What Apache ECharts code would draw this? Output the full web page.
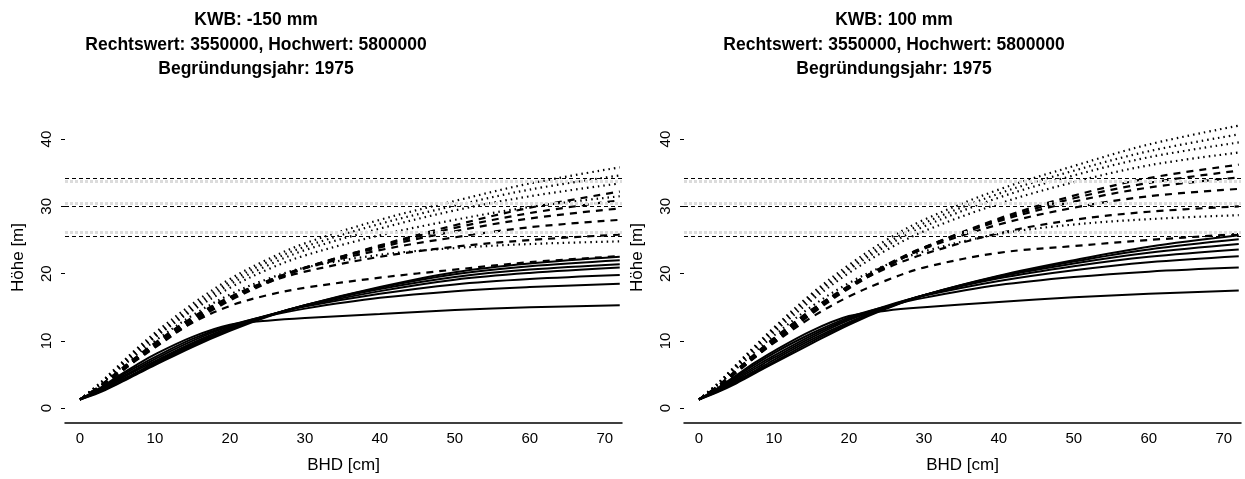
<!DOCTYPE html>
<html>
<head>
<meta charset="utf-8">
<script src="https://cdn.jsdelivr.net/npm/echarts@6/dist/echarts.min.js"></script>
<style>
  html, body { margin: 0; padding: 0; background: #fff; }
  #chart { width: 1245px; height: 479px; }
</style>
</head>
<body>
<div id="chart"></div>
<script>
var bhd = [0, 2.5, 5, 7.5, 10, 15, 20, 25, 30, 40, 50, 60, 72];

var xTicks = [0, 10, 20, 30, 40, 50, 60, 70];
var yTicks = [0, 10, 20, 30, 40];

// horizontal reference heights and their faint grey companions
var refHeights = [25.6, 30, 34.2];
var refBands = [26.2, 30.5, 33.7];

var titleLeft = 'KWB: -150 mm\nRechtswert: 3550000, Hochwert: 5800000\nBegründungsjahr: 1975';
var titleRight = 'KWB: 100 mm\nRechtswert: 3550000, Hochwert: 5800000\nBegründungsjahr: 1975';

// KWB -150 mm
var solidLeft = [
  [1.3, 2.3, 3.6, 5.0, 6.4, 9.1, 11.5, 13.6, 15.3, 18.0, 20.2, 21.5, 22.5],
  [1.3, 2.4, 3.7, 5.1, 6.6, 9.3, 11.7, 13.7, 15.3, 17.9, 19.9, 21.1, 22.0],
  [1.3, 2.5, 3.9, 5.3, 6.8, 9.5, 11.8, 13.7, 15.3, 17.7, 19.5, 20.6, 21.4],
  [1.3, 2.6, 4.1, 5.6, 7.0, 9.7, 12.0, 13.8, 15.2, 17.4, 19.1, 20.1, 20.9],
  [1.3, 2.7, 4.3, 5.8, 7.3, 10.0, 12.2, 13.8, 15.1, 17.0, 18.4, 19.2, 19.8],
  [1.3, 2.8, 4.5, 6.1, 7.6, 10.3, 12.3, 13.7, 14.8, 16.4, 17.4, 18.0, 18.5],
  [1.3, 2.9, 4.7, 6.4, 8.0, 10.6, 12.4, 13.0, 13.4, 14.0, 14.6, 15.0, 15.3]
];
var dashedLeft = [
  [1.3, 3.0, 5.0, 7.1, 9.0, 12.8, 16.0, 18.6, 20.8, 24.2, 27.2, 29.8, 32.2],
  [1.3, 3.0, 5.1, 7.2, 9.2, 13.0, 16.2, 18.8, 20.9, 24.1, 26.8, 29.0, 30.9],
  [1.3, 3.1, 5.2, 7.3, 9.3, 13.2, 16.4, 18.9, 20.9, 23.9, 26.3, 28.2, 29.7],
  [1.3, 3.1, 5.3, 7.5, 9.5, 13.4, 16.5, 18.9, 20.8, 23.5, 25.4, 26.9, 28.0],
  [1.3, 3.2, 5.4, 7.6, 9.7, 13.5, 16.5, 18.7, 20.3, 22.5, 24.0, 25.0, 25.8],
  [1.3, 3.1, 5.2, 7.3, 9.2, 12.7, 15.2, 16.8, 17.9, 19.4, 20.6, 21.7, 22.6]
];
var dottedLeft = [
  [1.3, 3.6, 6.2, 8.8, 11.2, 15.5, 19.2, 22.1, 24.5, 28.0, 30.8, 33.4, 35.8],
  [1.3, 3.5, 6.0, 8.6, 10.9, 15.1, 18.8, 21.7, 24.0, 27.4, 30.1, 32.5, 34.6],
  [1.3, 3.4, 5.9, 8.4, 10.7, 14.8, 18.4, 21.2, 23.5, 26.7, 29.4, 31.5, 33.4],
  [1.3, 3.4, 5.8, 8.2, 10.5, 14.5, 17.9, 20.6, 22.7, 25.7, 28.0, 29.9, 31.5],
  [1.3, 3.3, 5.6, 7.9, 10.0, 13.8, 16.9, 19.2, 20.9, 22.8, 23.8, 24.4, 24.8]
];

// KWB 100 mm
var solidRight = [
  [1.3, 2.4, 3.7, 5.2, 6.7, 9.6, 12.4, 14.8, 16.8, 19.7, 22.0, 24.0, 25.7],
  [1.3, 2.5, 3.9, 5.4, 6.9, 9.9, 12.6, 14.9, 16.8, 19.6, 21.8, 23.6, 25.1],
  [1.3, 2.6, 4.1, 5.6, 7.2, 10.2, 12.8, 15.0, 16.8, 19.5, 21.5, 23.1, 24.4],
  [1.3, 2.7, 4.3, 5.9, 7.5, 10.5, 13.1, 15.1, 16.8, 19.3, 21.1, 22.5, 23.6],
  [1.3, 2.8, 4.5, 6.2, 7.8, 10.8, 13.3, 15.2, 16.7, 18.9, 20.5, 21.7, 22.6],
  [1.3, 2.9, 4.7, 6.5, 8.2, 11.1, 13.5, 15.1, 16.4, 18.3, 19.5, 20.3, 20.9],
  [1.3, 3.0, 4.9, 6.8, 8.5, 11.5, 13.7, 14.5, 15.0, 15.8, 16.5, 17.0, 17.5]
];
var dashedRight = [
  [1.3, 3.1, 5.3, 7.6, 9.8, 14.0, 17.8, 21.0, 23.8, 28.2, 31.6, 34.2, 36.2],
  [1.3, 3.1, 5.4, 7.7, 9.9, 14.2, 18.0, 21.2, 23.9, 28.0, 31.2, 33.5, 35.3],
  [1.3, 3.2, 5.5, 7.8, 10.1, 14.4, 18.1, 21.3, 23.9, 27.8, 30.7, 32.8, 34.3],
  [1.3, 3.2, 5.6, 8.0, 10.3, 14.6, 18.2, 21.2, 23.7, 27.3, 29.8, 31.5, 32.6],
  [1.3, 3.3, 5.7, 8.1, 10.4, 14.6, 18.0, 20.8, 22.9, 26.0, 28.0, 29.2, 30.0],
  [1.3, 3.2, 5.4, 7.6, 9.7, 13.5, 16.6, 19.0, 20.9, 23.1, 24.1, 25.0, 25.9]
];
var dottedRight = [
  [1.3, 3.7, 6.5, 9.3, 12.0, 17.0, 21.3, 25.0, 28.0, 32.5, 36.0, 39.2, 42.0],
  [1.3, 3.6, 6.4, 9.1, 11.8, 16.7, 20.9, 24.5, 27.5, 31.9, 35.3, 38.2, 40.7],
  [1.3, 3.6, 6.3, 9.0, 11.6, 16.4, 20.6, 24.1, 27.0, 31.3, 34.6, 37.3, 39.5],
  [1.3, 3.5, 6.2, 8.8, 11.3, 16.0, 20.1, 23.5, 26.3, 30.4, 33.6, 36.1, 38.0],
  [1.3, 3.4, 5.9, 8.4, 10.8, 15.1, 18.6, 21.3, 23.3, 25.9, 27.3, 28.1, 28.7]
];

var FONT = 'Liberation Sans, Arial, sans-serif';

function pairs(ys) {
  return bhd.map(function (x, i) { return [x, ys[i]]; });
}

function curveSeries(groups, idx) {
  var out = [];
  var styles = [
    { list: groups[0], type: 'solid', width: 2 },
    { list: groups[1], type: [7, 6], width: 2.2 },
    { list: groups[2], type: [1.5, 4], width: 2.2 }
  ];
  styles.forEach(function (st) {
    st.list.forEach(function (ys) {
      out.push({
        type: 'line',
        xAxisIndex: idx,
        yAxisIndex: idx,
        data: pairs(ys),
        showSymbol: false,
        symbol: 'none',
        smooth: 0.35,
        silent: true,
        lineStyle: { color: '#000', width: st.width, type: st.type }
      });
    });
  });
  // reference lines
  out.push({
    type: 'line', xAxisIndex: idx, yAxisIndex: idx, data: [], silent: true,
    markLine: {
      silent: true, symbol: 'none', label: { show: false },
      lineStyle: { color: '#dcdcdc', width: 3, type: [3, 2] },
      data: refBands.map(function (v) { return { yAxis: v }; })
    }
  });
  out.push({
    type: 'line', xAxisIndex: idx, yAxisIndex: idx, data: [], silent: true,
    markLine: {
      silent: true, symbol: 'none', label: { show: false },
      lineStyle: { color: '#000', width: 1, type: [4, 3] },
      data: refHeights.map(function (v) { return { yAxis: v }; })
    }
  });
  return out;
}

function xAxisFor(idx) {
  return {
    type: 'value', gridIndex: idx, min: -2, max: 72.3,
    name: 'BHD [cm]', nameLocation: 'middle', nameGap: 34,
    nameTextStyle: { fontFamily: FONT, fontSize: 17, color: '#000' },
    axisLine: { show: true, onZero: false, lineStyle: { color: '#000', width: 1.5 } },
    axisTick: { show: false },
    splitLine: { show: false },
    axisLabel: { customValues: xTicks, fontFamily: FONT, fontSize: 15, color: '#000', margin: 8 }
  };
}

function yAxisFor(idx) {
  return {
    type: 'value', gridIndex: idx, min: -2.2, max: 47,
    name: 'Höhe [m]', nameLocation: 'middle', nameGap: 38, nameRotate: 90,
    nameTextStyle: { fontFamily: FONT, fontSize: 17, color: '#000' },
    axisLine: { show: false, onZero: false },
    axisTick: { show: true, customValues: yTicks, length: 4, lineStyle: { color: '#000' } },
    splitLine: { show: false },
    axisLabel: { customValues: yTicks, rotate: 90, fontFamily: FONT, fontSize: 15, color: '#000', margin: 11 }
  };
}

var chart = echarts.init(document.getElementById('chart'), null, { renderer: 'canvas' });

var option = {
  animation: false,
  backgroundColor: '#fff',
  title: [
    { text: titleLeft, left: 251, top: 3, textAlign: 'center',
      textStyle: { fontFamily: FONT, fontSize: 17.5, fontWeight: 'bold', lineHeight: 24.5, color: '#000' } },
    { text: titleRight, left: 889, top: 3, textAlign: 'center',
      textStyle: { fontFamily: FONT, fontSize: 17.5, fontWeight: 'bold', lineHeight: 24.5, color: '#000' } }
  ],
  grid: [
    { left: 65, top: 92, width: 557, height: 336 },
    { left: 684, top: 92, width: 557, height: 336 }
  ],
  xAxis: [xAxisFor(0), xAxisFor(1)],
  yAxis: [yAxisFor(0), yAxisFor(1)],
  series: curveSeries([solidLeft, dashedLeft, dottedLeft], 0)
    .concat(curveSeries([solidRight, dashedRight, dottedRight], 1))
};

chart.setOption(option);
</script>
</body>
</html>
